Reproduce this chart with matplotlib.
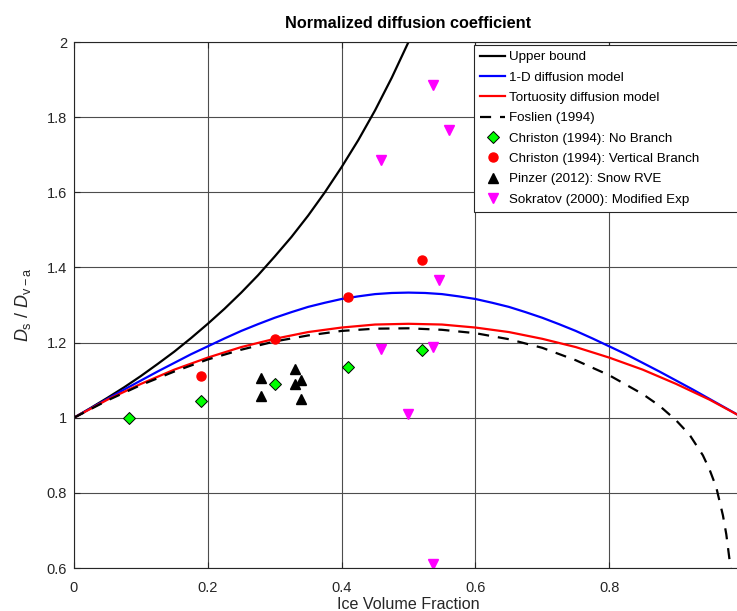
import numpy as np
import matplotlib
matplotlib.use("Agg")
import matplotlib.pyplot as plt
from matplotlib.ticker import FuncFormatter

plt.rcParams["font.family"] = ["Liberation Sans", "DejaVu Sans"]
plt.rcParams["mathtext.fontset"] = "custom"
plt.rcParams["mathtext.rm"] = "Liberation Sans"
plt.rcParams["mathtext.it"] = "Liberation Sans:italic"

# ---- model curves ----
ub_x = [0, .025, .05, .075, .1, .125, .15, .175, .2, .225, .25, .275, .3,
        .325, .35, .375, .4, .425, .45, .475, .5, .52]
ub_y = [1.000, 1.026, 1.053, 1.081, 1.111, 1.143, 1.176, 1.212, 1.250, 1.290,
        1.333, 1.379, 1.429, 1.481, 1.538, 1.600, 1.667, 1.739, 1.818, 1.905,
        2.000, 2.083]

mdl_x = [0, .025, .05, .075, .1, .125, .15, .175, .2, .225, .25, .275, .3,
         .325, .35, .375, .4, .425, .45, .475, .5, .525, .55, .575, .6, .625,
         .65, .675, .7, .725, .75, .775, .8, .825, .85, .875, .9, .925, .95,
         .975, 1.0]
oned_y = [1.000, 1.025, 1.050, 1.075, 1.099, 1.123, 1.146, 1.169, 1.190, 1.211,
          1.231, 1.249, 1.266, 1.281, 1.295, 1.306, 1.316, 1.323, 1.329, 1.332,
          1.333, 1.332, 1.329, 1.323, 1.316, 1.306, 1.295, 1.281, 1.266, 1.249,
          1.231, 1.211, 1.190, 1.169, 1.146, 1.123, 1.099, 1.075, 1.050, 1.025,
          1.000]
tort_y = [1.000, 1.024, 1.048, 1.069, 1.090, 1.109, 1.128, 1.144, 1.160, 1.174,
          1.188, 1.199, 1.210, 1.219, 1.228, 1.234, 1.240, 1.244, 1.248, 1.249,
          1.250, 1.249, 1.248, 1.244, 1.240, 1.234, 1.228, 1.219, 1.210, 1.199,
          1.188, 1.174, 1.160, 1.144, 1.128, 1.109, 1.090, 1.069, 1.048, 1.024,
          1.000]

fos_x = [0, .05, .1, .15, .2, .25, .3, .35, .4, .45, .5, .55, .6, .65, .7, .75,
         .8, .85, .875, .9, .92, .94, .95, .96, .97, .975, .98, .985]
fos_y = [1.000, 1.046, 1.087, 1.123, 1.155, 1.181, 1.203, 1.219, 1.231, 1.237,
         1.238, 1.234, 1.225, 1.209, 1.186, 1.153, 1.113, 1.063, 1.032, 0.993,
         0.955, 0.900, 0.862, 0.815, 0.740, 0.690, 0.620, 0.550]

# ---- measurements ----
nob_x = [0.082, 0.19, 0.30, 0.41, 0.52]
nob_y = [1.000, 1.045, 1.090, 1.135, 1.180]
vert_x = [0.19, 0.30, 0.41, 0.52]
vert_y = [1.110, 1.210, 1.320, 1.420]
pin_x = [0.28, 0.28, 0.33, 0.33, 0.34, 0.34]
pin_y = [1.107, 1.059, 1.129, 1.089, 1.100, 1.050]
sok_x = [0.536, 0.459, 0.561, 0.546, 0.459, 0.536, 0.499, 0.536]
sok_y = [1.885, 1.687, 1.765, 1.366, 1.183, 1.189, 1.010, 0.611]

W, H = 737, 611
fig = plt.figure(figsize=(W / 100, H / 100), dpi=100)
ax = fig.add_axes([74 / W, 1 - 568 / H, 669 / W, 526 / H])

ax.plot(ub_x, ub_y, color="black", lw=1.6, label="Upper bound")
ax.plot(mdl_x, oned_y, color="blue", lw=1.6, label="1-D diffusion model")
ax.plot(mdl_x, tort_y, color="red", lw=1.6, label="Tortuosity diffusion model")
ax.plot(fos_x, fos_y, color="black", lw=1.6, ls=(0, (5, 4)),
        label="Foslien (1994)")
ax.plot(nob_x, nob_y, "D", ms=6.5, mfc="#00ff00", mec="black", mew=0.7,
        ls="none", label="Christon (1994): No Branch")
ax.plot(vert_x, vert_y, "o", ms=6.5, color="red", ls="none",
        label="Christon (1994): Vertical Branch")
ax.plot(pin_x, pin_y, "^", ms=6.5, color="black", ls="none",
        label="Pinzer (2012): Snow RVE")
ax.plot(sok_x, sok_y, "v", ms=6.5, color="magenta", ls="none",
        label="Sokratov (2000): Modified Exp")

ax.set_xlim(0, 1)
ax.set_ylim(0.6, 2)
ax.set_xticks([0, 0.2, 0.4, 0.6, 0.8])
ax.set_yticks([0.6, 0.8, 1.0, 1.2, 1.4, 1.6, 1.8, 2.0])
fmt = FuncFormatter(lambda v, p: f"{v:g}")
ax.xaxis.set_major_formatter(fmt)
ax.yaxis.set_major_formatter(fmt)
ax.tick_params(direction="in", length=4, labelsize=10.5, colors="#262626",
               top=True, right=True, pad=5)
ax.tick_params(axis="x", pad=9)
ax.grid(True, color="#4d4d4d", lw=0.8)
ax.set_axisbelow(True)
for s in ax.spines.values():
    s.set_color("#262626")
    s.set_linewidth(0.8)

ax.set_title("Normalized diffusion coefficient", fontsize=11.7,
             fontweight="bold", pad=10)
ax.set_xlabel("Ice Volume Fraction", fontsize=11.6, color="#262626",
              labelpad=2)
ax.set_ylabel(r"$D_{\mathrm{s}}$ / $D_{\mathrm{v-a}}$", fontsize=13,
              color="#262626", labelpad=10)

leg = ax.legend(loc="upper left",
                bbox_to_anchor=(474 / W, 1 - 208 / H, 300 / W, 163 / H),
                bbox_transform=fig.transFigure, mode="expand", borderaxespad=0,
                fontsize=9.6, fancybox=False, framealpha=1, edgecolor="#262626",
                handlelength=1.9, handletextpad=0.3, labelspacing=0.6,
                borderpad=0.45, numpoints=1)
leg.get_frame().set_linewidth(0.8)

fig.savefig("out.png", dpi=100, facecolor="white")
